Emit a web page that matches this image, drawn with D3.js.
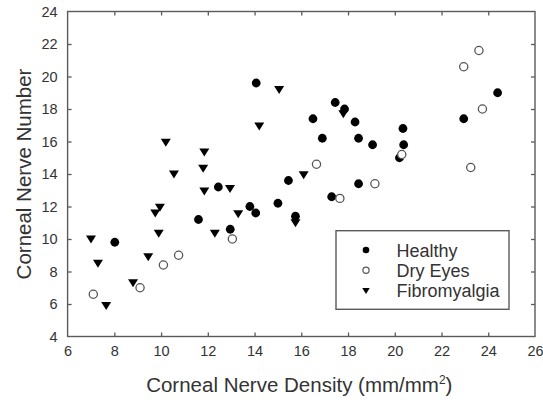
<!DOCTYPE html>
<html>
<head>
<meta charset="utf-8">
<script src="https://cdn.jsdelivr.net/npm/d3@7"></script>
<style>
  html, body { margin: 0; padding: 0; background: #fff; }
  svg { display: block; font-family: "Liberation Sans", Arial, sans-serif; }
</style>
</head>
<body>
<svg id="chart" width="543" height="403"></svg>
<script>
// ---- data ----
const healthyX = [8.02, 11.6, 12.45, 12.96, 13.8, 14.05, 14.07, 15.0, 15.45, 15.75, 16.5, 16.9, 17.3, 17.45, 17.85, 18.3, 18.45, 18.45, 19.05, 20.2, 20.35, 20.38, 22.95, 24.4];
const healthyY = [9.8, 11.2, 13.2, 10.6, 12.0, 11.6, 19.6, 12.2, 13.6, 11.4, 17.4, 16.2, 12.6, 18.4, 18.0, 17.2, 16.2, 13.4, 15.8, 15.0, 16.8, 15.8, 17.4, 19.0];

const dryX = [7.1, 9.1, 10.1, 10.75, 13.05, 16.65, 17.65, 19.15, 20.3, 22.95, 23.25, 23.6, 23.75];
const dryY = [6.6, 7.0, 8.4, 9.0, 10.0, 14.6, 12.5, 13.4, 15.2, 20.6, 14.4, 21.6, 18.0];

const fibroX = [7.0, 7.3, 7.65, 8.8, 9.45, 9.75, 9.9, 9.95, 10.2, 10.55, 11.8, 11.85, 11.85, 12.3, 12.95, 13.3, 14.2, 15.05, 15.75, 16.1, 17.8];
const fibroY = [10.0, 8.5, 5.9, 7.3, 8.9, 11.6, 10.35, 11.95, 15.95, 14.0, 14.35, 15.35, 12.95, 10.35, 13.1, 11.55, 16.95, 19.2, 11.0, 13.95, 17.7];

const xTicks = [6, 8, 10, 12, 14, 16, 18, 20, 22, 24, 26];
const yTicks = [4, 6, 8, 10, 12, 14, 16, 18, 20, 22, 24];
const legendLabels = ["Healthy", "Dry Eyes", "Fibromyalgia"];

// ---- layout ----
const svg = d3.select("#chart");
const L = 67.6, R = 535, T = 11.5, B = 336.5;
const axisColor = "#5a5a5a";
const textColor = "#333";

const x = d3.scaleLinear().domain([6, 26]).range([L, R]);
const y = d3.scaleLinear().domain([4, 24]).range([B, T]);

// frame
svg.append("rect")
  .attr("x", L).attr("y", T).attr("width", R - L).attr("height", B - T)
  .attr("fill", "none").attr("stroke", axisColor).attr("stroke-width", 1.4);

function styleAxis(g) {
  g.select(".domain").remove();
  g.selectAll(".tick line").attr("stroke", axisColor).attr("stroke-width", 1.3);
  g.selectAll(".tick text").attr("fill", textColor)
    .style("font-size", "14.5px").style("font-family", "Liberation Sans, Arial, sans-serif");
}

// bottom axis (ticks inward)
svg.append("g").attr("transform", `translate(0,${B})`)
  .call(d3.axisBottom(x).tickValues(xTicks).tickFormat(d3.format("d")).tickSizeInner(-4).tickSizeOuter(0).tickPadding(9))
  .call(styleAxis)
  .call(g => g.selectAll(".tick").filter(d => d === 6 || d === 26).select("line").remove());

// top axis ticks
svg.append("g").attr("transform", `translate(0,${T})`)
  .call(d3.axisTop(x).tickValues(xTicks).tickFormat("").tickSizeInner(-4).tickSizeOuter(0))
  .call(styleAxis)
  .call(g => g.selectAll(".tick").filter(d => d === 6 || d === 26).select("line").remove());

// left axis
svg.append("g").attr("transform", `translate(${L},0)`)
  .call(d3.axisLeft(y).tickValues(yTicks).tickFormat(d3.format("d")).tickSizeInner(-4).tickSizeOuter(0).tickPadding(10))
  .call(styleAxis)
  .call(g => g.selectAll(".tick").filter(d => d === 4 || d === 24).select("line").remove());

// right axis ticks
svg.append("g").attr("transform", `translate(${R},0)`)
  .call(d3.axisRight(y).tickValues(yTicks).tickFormat("").tickSizeInner(-4).tickSizeOuter(0))
  .call(styleAxis)
  .call(g => g.selectAll(".tick").filter(d => d === 4 || d === 24).select("line").remove());

// axis titles
const xTitle = svg.append("text")
  .attr("x", (L + R) / 2 - 2).attr("y", 392)
  .attr("text-anchor", "middle").attr("fill", textColor)
  .style("font-size", "20.5px");
xTitle.append("tspan").text("Corneal Nerve Density (mm/mm");
xTitle.append("tspan").text("2").attr("dy", -8).style("font-size", "12px");
xTitle.append("tspan").text(")").attr("dy", 8);

svg.append("text")
  .attr("transform", `translate(31,${(T + B) / 2}) rotate(-90)`)
  .attr("text-anchor", "middle").attr("fill", textColor)
  .style("font-size", "20.5px")
  .text("Corneal Nerve Number");

// markers
const triPath = s => `M${-5 * s},${-3.6 * s}L${5 * s},${-3.6 * s}L0,${4.4 * s}Z`;

const fibro = fibroX.map((v, i) => [v, fibroY[i]]);
const healthy = healthyX.map((v, i) => [v, healthyY[i]]);
const dry = dryX.map((v, i) => [v, dryY[i]]);

svg.append("g").selectAll("path").data(fibro).join("path")
  .attr("d", triPath(1))
  .attr("transform", d => `translate(${x(d[0])},${y(d[1])})`)
  .attr("fill", "#000");

svg.append("g").selectAll("circle").data(healthy).join("circle")
  .attr("cx", d => x(d[0])).attr("cy", d => y(d[1])).attr("r", 4.4)
  .attr("fill", "#000");

svg.append("g").selectAll("circle").data(dry).join("circle")
  .attr("cx", d => x(d[0])).attr("cy", d => y(d[1])).attr("r", 4.1)
  .attr("fill", "#fff").attr("stroke", "#555").attr("stroke-width", 1.3);

// legend
const lg = svg.append("g");
lg.append("rect")
  .attr("x", 336).attr("y", 230.7).attr("width", 173).attr("height", 78.6)
  .attr("fill", "#fff").attr("stroke", axisColor).attr("stroke-width", 1.4);
const rowsY = [250, 270.3, 290.6];
const symX = 366, txtX = 396.5;
lg.append("circle").attr("cx", symX).attr("cy", rowsY[0]).attr("r", 3.3).attr("fill", "#000");
lg.append("circle").attr("cx", symX).attr("cy", rowsY[1]).attr("r", 3.1)
  .attr("fill", "#fff").attr("stroke", "#555").attr("stroke-width", 1.2);
lg.append("path").attr("d", triPath(0.75)).attr("transform", `translate(${symX},${rowsY[2]})`).attr("fill", "#000");
lg.selectAll("text.lab").data(legendLabels).join("text")
  .attr("class", "lab")
  .attr("x", txtX).attr("y", (d, i) => rowsY[i] + 6.5)
  .attr("fill", textColor)
  .style("font-size", "18px")
  .text(d => d);
</script>
</body>
</html>
